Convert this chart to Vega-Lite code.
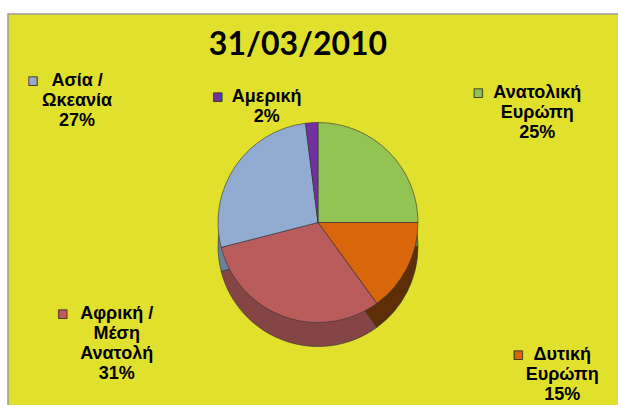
{
  "$schema": "https://vega.github.io/schema/vega-lite/v6.json",
  "width": 620,
  "height": 401,
  "autosize": {"type": "none"},
  "padding": {"left": 8, "top": 14, "right": -10, "bottom": -10},
  "background": "white",
  "view": {"fill": "#E1E12D", "stroke": "#9A9A9A", "strokeWidth": 1.5},
  "title": {
    "text": "31/03/2010",
    "orient": "top",
    "anchor": "middle",
    "offset": -48,
    "dx": -20,
    "fontSize": 32,
    "font": "Lato",
    "fontWeight": "bold",
    "color": "black"
  },
  "data": {
    "values": [
      {"n": 1, "region": "Ανατολική\nΕυρώπη", "value": 25},
      {"n": 2, "region": "Δυτική\nΕυρώπη", "value": 15},
      {"n": 3, "region": "Αφρική /\nΜέση\nΑνατολή", "value": 31},
      {"n": 4, "region": "Ασία /\nΩκεανία", "value": 27},
      {"n": 5, "region": "Αμερική", "value": 2}
    ]
  },
  "layer": [
    {
      "mark": {"type": "arc", "outerRadius": 100, "yOffset": 32, "stroke": "#333333", "strokeWidth": 0.6},
      "encoding": {
        "theta": {"field": "value", "type": "quantitative", "stack": true},
        "order": {"field": "n", "type": "quantitative"},
        "color": {
          "field": "region",
          "type": "nominal",
          "scale": {
            "domain": ["Ανατολική\nΕυρώπη", "Δυτική\nΕυρώπη", "Αφρική /\nΜέση\nΑνατολή", "Ασία /\nΩκεανία", "Αμερική"],
            "range": ["#5E7F33", "#5E2E06", "#864545", "#6C7F9C", "#4A1F6B"]
          },
          "legend": null
        }
      }
    },
    {
      "mark": {"type": "arc", "outerRadius": 100, "yOffset": 8, "stroke": "#333333", "strokeWidth": 0.6},
      "encoding": {
        "theta": {"field": "value", "type": "quantitative", "stack": true},
        "order": {"field": "n", "type": "quantitative"},
        "color": {
          "field": "region",
          "type": "nominal",
          "scale": {
            "domain": ["Ανατολική\nΕυρώπη", "Δυτική\nΕυρώπη", "Αφρική /\nΜέση\nΑνατολή", "Ασία /\nΩκεανία", "Αμερική"],
            "range": ["#92C353", "#D9660B", "#BA5C5C", "#92ABD0", "#7230A0"]
          },
          "legend": null
        }
      }
    },
    {
      "mark": {
        "type": "text",
        "radius": 0,
        "font": "Liberation Sans",
        "fontWeight": "bold",
        "fontSize": 18,
        "lineBreak": "\n",
        "lineHeight": 20,
        "color": "black",
        "text": {"expr": "datum.region + '\\n' + datum.value + '%'"},
        "dx": {"expr": "(sin(PI * (datum.value_start + datum.value_end) / 100) < 0 ? -1 : 1) * (cos(PI * (datum.value_start + datum.value_end) / 100) > 0 ? 270 * pow(abs(sin(PI * (datum.value_start + datum.value_end) / 100)), 0.6) : 250 * pow(abs(sin(PI * (datum.value_start + datum.value_end) / 100)), 0.2))"},
        "dy": {"expr": "(cos(PI * (datum.value_start + datum.value_end) / 100) > 0 ? (-115 + 8 * sin(PI * (datum.value_start + datum.value_end) / 100)) : (130 + 25 * sin(PI * (datum.value_start + datum.value_end) / 100))) + 8 - 10 * length(split(datum.region, '\\n'))"}
      },
      "encoding": {
        "theta": {"field": "value", "type": "quantitative", "stack": true},
        "order": {"field": "n", "type": "quantitative"}
      }
    },
    {
      "mark": {
        "type": "text",
        "radius": 0,
        "font": "DejaVu Sans",
        "fontSize": 11,
        "stroke": "#222222",
        "strokeWidth": 0.8,
        "text": "■",
        "dx": {"expr": "(sin(PI * (datum.value_start + datum.value_end) / 100) < 0 ? -1 : 1) * (cos(PI * (datum.value_start + datum.value_end) / 100) > 0 ? 270 * pow(abs(sin(PI * (datum.value_start + datum.value_end) / 100)), 0.6) : 250 * pow(abs(sin(PI * (datum.value_start + datum.value_end) / 100)), 0.2)) - 5 * length(split(datum.region, '\\n')[0]) - 14"},
        "dy": {"expr": "(cos(PI * (datum.value_start + datum.value_end) / 100) > 0 ? (-115 + 8 * sin(PI * (datum.value_start + datum.value_end) / 100)) : (130 + 25 * sin(PI * (datum.value_start + datum.value_end) / 100))) + 8 - 10 * length(split(datum.region, '\\n'))"}
      },
      "encoding": {
        "theta": {"field": "value", "type": "quantitative", "stack": true},
        "order": {"field": "n", "type": "quantitative"},
        "color": {
          "field": "region",
          "type": "nominal",
          "scale": {
            "domain": ["Ανατολική\nΕυρώπη", "Δυτική\nΕυρώπη", "Αφρική /\nΜέση\nΑνατολή", "Ασία /\nΩκεανία", "Αμερική"],
            "range": ["#92C353", "#D9660B", "#BA5C5C", "#92ABD0", "#7230A0"]
          },
          "legend": null
        }
      }
    }
  ],
  "resolve": {"scale": {"color": "independent"}}
}
